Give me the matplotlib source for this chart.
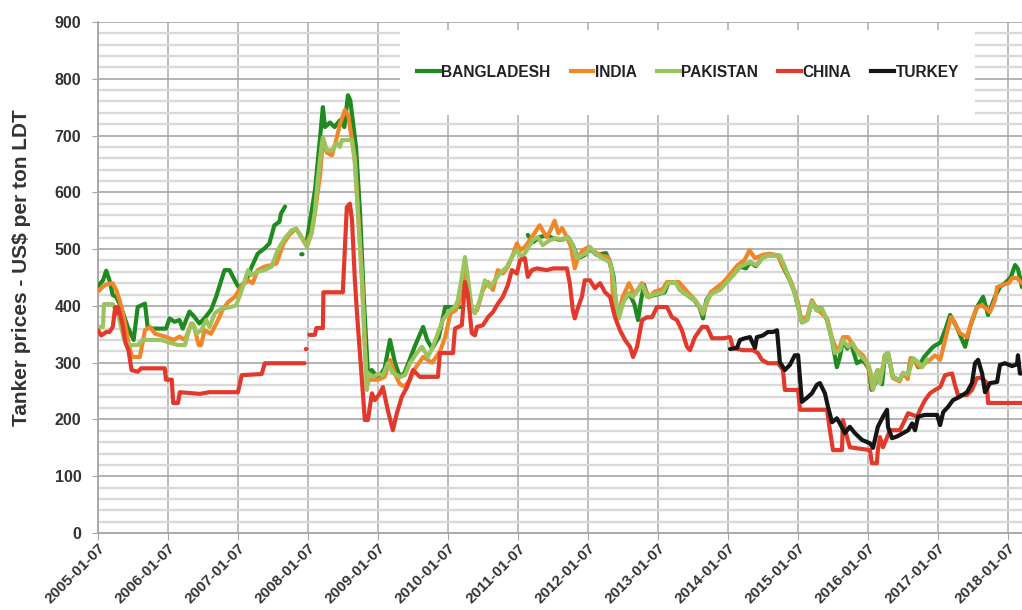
import numpy as np
import pandas as pd
import matplotlib
matplotlib.use("Agg")
import matplotlib.pyplot as plt
from matplotlib.lines import Line2D
from matplotlib.patches import Rectangle
from matplotlib.ticker import MultipleLocator

plt.rcParams['font.family'] = ['Liberation Sans', 'DejaVu Sans']
plt.rcParams['font.weight'] = 'bold'

nan = np.nan

# ---- data (US$ per ton LDT) ----
bd_dates = ['2005-01-07', '2005-02-02', '2005-02-19', '2005-03-08', '2005-03-25', '2005-04-12',
            '2005-05-07', '2005-06-11', '2005-07-12', '2005-08-02', '2005-09-09', '2005-09-23',
            '2005-10-19', '2005-12-28', '2006-01-15', '2006-02-10', '2006-03-08', '2006-03-25',
            '2006-04-29', '2006-05-24', '2006-06-20', '2006-07-16', '2006-08-20', '2006-09-15',
            '2006-10-29', '2006-11-24', '2006-12-29', '2007-01-15', '2007-02-19', '2007-03-16',
            '2007-04-20', '2007-05-25', '2007-06-20', '2007-07-16', '2007-08-11', '2007-08-20',
            '2007-09-10', '2007-09-20', '2007-12-03', '2007-12-10', '2007-12-17',
            '2008-01-02', '2008-02-13', '2008-03-10', '2008-03-25', '2008-04-05', '2008-05-01',
            '2008-05-25', '2008-06-22', '2008-07-15', '2008-08-03', '2008-08-15', '2008-09-14',
            '2008-10-05', '2008-10-25', '2008-11-15', '2008-12-05', '2009-01-07', '2009-02-10',
            '2009-03-10', '2009-04-05', '2009-05-01', '2009-05-25', '2009-07-19', '2009-08-30',
            '2009-09-20', '2009-10-16', '2009-11-20', '2009-12-23', '2010-03-10', '2010-03-20',
            '2011-02-27', '2011-03-25', '2011-04-30', '2011-06-06', '2011-07-08', '2011-08-20',
            '2011-09-25', '2011-10-20', '2011-11-15', '2011-12-20', '2012-01-20', '2012-02-20',
            '2012-04-10', '2012-05-01', '2012-05-20', '2012-06-01', '2012-06-10', '2012-07-01',
            '2012-08-10', '2012-09-05', '2012-09-24', '2012-10-10', '2012-10-25', '2012-11-15',
            '2012-12-20', '2013-02-10', '2013-03-01', '2013-04-10', '2013-05-01', '2013-06-20',
            '2013-07-15', '2013-08-10', '2013-08-29', '2013-09-15', '2013-10-10', '2013-11-15',
            '2013-12-15', '2014-02-01', '2014-03-10', '2014-04-10', '2014-05-01', '2014-06-01',
            '2014-07-08', '2014-08-10', '2014-09-24', '2014-10-20', '2014-11-25', '2014-12-21',
            '2015-01-07', '2015-01-27', '2015-02-22', '2015-03-20', '2015-04-15', '2015-05-05',
            '2015-06-07', '2015-07-03', '2015-07-28', '2015-08-13', '2015-08-29', '2015-09-20',
            '2015-10-10', '2015-11-10', '2015-12-10', '2016-01-10', '2016-01-25', '2016-02-15',
            '2016-02-27', '2016-03-20', '2016-04-04', '2016-04-20', '2016-05-15', '2016-06-20',
            '2016-07-08', '2016-08-01', '2016-08-17', '2016-09-10', '2016-09-25', '2016-10-25',
            '2016-12-06', '2016-12-20', '2017-01-17', '2017-02-15', '2017-03-10', '2017-04-10',
            '2017-05-27', '2017-06-22', '2017-07-28', '2017-08-29', '2017-09-24', '2017-10-30',
            '2017-11-25', '2017-12-21', '2018-01-20', '2018-02-12', '2018-02-27', '2018-03-20']
bd_vals = [435, 445, 462, 445, 419, 416,
           398, 363, 340, 398, 404, 363,
           360, 360, 378, 372, 375, 360,
           390, 381, 369, 378, 393, 416,
           463, 463, 440, 431, 445, 466,
           492, 501, 510, 542, 548, 563,
           575, nan, 491, 491, nan,
           516, 604, 695, 750, 715, 723,
           715, 727, 715, 771, 762, 680,
           563, 410, 282, 287, 273, 290,
           340, 300, 275, 282, 330, 363,
           340, 325, 345, 398, 398, nan,
           525, 512, 521, 525, 519, 516,
           521, 507, 484, 489, 500, 490,
           493, 477, 451, 398, 378, 405,
           422, 403, 375, 410, 437, 416,
           419, 424, 440, 442, 428, 416,
           410, 398, 378, 410, 422, 428,
           442, 454, 469, 466, 477, 470,
           486, 489, 489, 469, 445, 422,
           398, 371, 375, 407, 392, 396,
           375, 340, 292, 310, 340, 325,
           334, 299, 305, 290, 252, 265,
           287, 262, 313, 317, 275, 269,
           282, 275, 308, 301, 292, 310,
           326, 330, 335, 360, 384, 365,
           328, 363, 398, 416, 384, 416,
           433, 440, 450, 472, 465, 433]

in_dates = ['2005-01-07', '2005-02-12', '2005-03-24', '2005-04-12', '2005-04-30', '2005-05-24',
            '2005-06-19', '2005-07-04', '2005-08-13', '2005-09-09', '2005-10-05', '2005-11-01',
            '2005-12-22', '2006-02-06', '2006-03-08', '2006-04-06', '2006-05-09', '2006-05-24',
            '2006-06-16', '2006-06-29', '2006-07-16', '2006-08-20', '2006-09-25', '2006-10-19',
            '2006-11-17', '2006-12-22', '2007-01-24', '2007-03-01', '2007-03-25', '2007-04-20',
            '2007-05-25', '2007-07-01', '2007-07-27', '2007-09-02', '2007-10-01', '2007-11-06',
            '2007-12-02', '2007-12-28', '2008-01-25', '2008-02-13', '2008-03-10', '2008-03-25',
            '2008-04-15', '2008-05-11', '2008-06-01', '2008-06-22', '2008-07-18', '2008-08-05',
            '2008-08-20', '2008-09-08', '2008-09-24', '2008-10-15', '2008-10-30', '2008-11-10',
            '2008-11-20', '2009-01-07', '2009-02-10', '2009-03-10', '2009-04-05', '2009-05-01',
            '2009-05-25', '2009-06-20', '2009-07-19', '2009-08-30', '2009-10-16', '2009-11-26',
            '2009-12-23', '2010-01-20', '2010-02-15', '2010-03-10', '2010-04-05', '2010-04-20',
            '2010-05-11', '2010-06-07', '2010-07-08', '2010-08-03', '2010-08-29', '2010-09-24',
            '2010-10-20', '2010-11-15', '2010-12-10', '2011-01-01', '2011-01-20', '2011-02-12',
            '2011-03-20', '2011-04-30', '2011-05-15', '2011-06-06', '2011-06-25', '2011-07-17',
            '2011-08-05', '2011-08-25', '2011-09-19', '2011-10-10', '2011-10-30', '2011-11-15',
            '2011-12-10', '2012-01-13', '2012-02-12', '2012-03-20', '2012-04-21', '2012-05-10',
            '2012-05-20', '2012-06-10', '2012-07-05', '2012-08-08', '2012-09-05', '2012-10-15',
            '2012-11-20', '2012-12-20', '2013-02-01', '2013-02-22', '2013-04-25', '2013-06-10',
            '2013-07-20', '2013-08-10', '2013-08-28', '2013-10-08', '2013-12-15', '2014-02-26',
            '2014-04-01', '2014-04-29', '2014-05-27', '2014-07-08', '2014-08-10', '2014-09-24',
            '2014-10-20', '2014-11-25', '2014-12-21', '2015-01-07', '2015-01-22', '2015-02-22',
            '2015-03-20', '2015-04-15', '2015-06-07', '2015-07-03', '2015-07-28', '2015-08-13',
            '2015-08-29', '2015-09-25', '2015-10-30', '2015-12-14', '2016-01-10', '2016-01-30',
            '2016-02-22', '2016-03-09', '2016-04-04', '2016-04-20', '2016-05-15', '2016-06-20',
            '2016-07-08', '2016-08-01', '2016-08-17', '2016-09-08', '2016-10-04', '2016-11-25',
            '2016-12-21', '2017-01-17', '2017-02-12', '2017-03-14', '2017-04-04', '2017-04-30',
            '2017-06-06', '2017-07-02', '2017-07-28', '2017-08-24', '2017-10-04', '2017-10-30',
            '2017-11-10', '2017-12-10', '2018-01-10', '2018-01-27', '2018-02-22', '2018-03-20']
in_vals = [425, 437, 440, 428, 410, 375,
           328, 310, 310, 357, 363, 351,
           346, 340, 346, 340, 369, 363,
           331, 331, 357, 351, 375, 393,
           407, 416, 434, 445, 440, 463,
           469, 472, 475, 510, 525, 536,
           522, 507, 528, 565, 630, 690,
           670, 665, 690, 720, 745, 735,
           700, 660, 570, 450, 330, 258,
           270, 270, 275, 305, 280, 262,
           258, 268, 290, 310, 300, 320,
           345, 387, 392, 410, 470, 440,
           392, 392, 428, 442, 428, 463,
           457, 469, 489, 510, 498, 504,
           521, 542, 533, 521, 533, 550,
           528, 537, 521, 504, 466, 484,
           498, 504, 495, 488, 486, 460,
           390, 380, 415, 440, 420, 440,
           415, 425, 430, 442, 442, 424,
           410, 398, 385, 424, 442, 472,
           480, 498, 484, 490, 492, 489,
           470, 448, 425, 405, 378, 380,
           410, 395, 378, 343, 322, 328,
           345, 345, 325, 312, 290, 255,
           285, 266, 313, 317, 273, 267,
           282, 271, 308, 301, 292, 305,
           313, 305, 340, 380, 370, 352,
           345, 375, 398, 401, 389, 410,
           433, 437, 440, 449, 449, 440]

pk_dates = ['2005-01-07', '2005-02-02', '2005-02-07', '2005-03-25', '2005-04-20', '2005-05-24',
            '2005-06-19', '2005-08-02', '2005-08-27', '2005-12-02', '2006-01-29', '2006-03-02',
            '2006-04-06', '2006-04-29', '2006-05-17', '2006-06-05', '2006-06-29', '2006-07-26',
            '2006-08-12', '2006-09-08', '2006-10-13', '2006-12-02', '2006-12-29', '2007-01-24',
            '2007-03-01', '2007-03-16', '2007-04-20', '2007-05-25', '2007-07-01', '2007-08-02',
            '2007-09-08', '2007-10-13', '2007-11-06', '2007-12-06', '2008-01-02', '2008-01-27',
            '2008-02-12', '2008-02-27', '2008-03-20', '2008-03-25', '2008-04-15', '2008-05-11',
            '2008-06-06', '2008-06-22', '2008-07-02', '2008-08-24', '2008-09-08', '2008-09-24',
            '2008-10-15', '2008-10-30', '2008-11-10', '2008-11-15', '2008-12-11', '2009-01-07',
            '2009-02-01', '2009-02-27', '2009-03-25', '2009-05-01', '2009-05-27', '2009-06-22',
            '2009-07-28', '2009-08-24', '2009-09-24', '2009-10-20', '2009-11-15', '2009-12-11',
            '2010-01-17', '2010-02-12', '2010-02-27', '2010-03-20', '2010-04-05', '2010-04-20',
            '2010-05-11', '2010-05-27', '2010-06-22', '2010-07-18', '2010-08-13', '2010-09-08',
            '2010-10-04', '2010-11-10', '2010-12-06', '2011-01-01', '2011-01-27', '2011-02-22',
            '2011-03-25', '2011-04-20', '2011-05-16', '2011-06-22', '2011-07-28', '2011-08-29',
            '2011-09-24', '2011-10-20', '2011-11-10', '2011-12-06', '2012-01-02', '2012-01-17',
            '2012-02-12', '2012-03-10', '2012-05-01', '2012-05-16', '2012-06-06', '2012-06-16',
            '2012-07-08', '2012-08-03', '2012-08-29', '2012-10-15', '2012-11-10', '2012-12-06',
            '2013-02-01', '2013-02-27', '2013-04-05', '2013-05-01', '2013-06-22', '2013-07-18',
            '2013-08-13', '2013-08-29', '2013-09-19', '2013-10-15', '2013-11-25', '2014-01-02',
            '2014-02-02', '2014-03-10', '2014-05-01', '2014-06-06', '2014-07-08', '2014-08-13',
            '2014-10-04', '2014-10-30', '2014-11-25', '2014-12-21', '2015-01-07', '2015-01-27',
            '2015-02-22', '2015-03-20', '2015-04-15', '2015-05-11', '2015-06-07', '2015-07-03',
            '2015-07-18', '2015-08-13', '2015-08-29', '2015-09-24', '2015-10-20', '2015-11-15',
            '2015-12-11', '2016-01-07', '2016-01-27', '2016-02-02', '2016-02-17', '2016-02-27',
            '2016-03-09', '2016-04-05', '2016-04-20', '2016-05-16', '2016-06-21', '2016-07-08',
            '2016-08-03', '2016-08-29', '2016-09-24', '2016-10-15', '2016-11-10']
pk_vals = [363, 363, 403, 403, 387, 340,
           331, 331, 340, 340, 334, 331,
           331, 360, 369, 351, 357, 375,
           363, 387, 395, 398, 401, 425,
           463, 454, 460, 463, 469, 498,
           519, 533, 536, 521, 504, 528,
           563, 621, 687, 697, 674, 674,
           687, 680, 692, 692, 651, 563,
           445, 328, 252, 282, 275, 280,
           278, 299, 282, 275, 278, 299,
           317, 328, 310, 328, 352, 375,
           392, 398, 410, 451, 486, 451,
           392, 387, 410, 445, 433, 445,
           457, 469, 486, 498, 486, 498,
           516, 521, 507, 516, 519, 516,
           521, 507, 484, 489, 493, 504,
           493, 486, 477, 451, 398, 378,
           405, 422, 416, 437, 416, 419,
           424, 440, 442, 428, 416, 410,
           398, 387, 410, 422, 428, 442,
           454, 469, 477, 472, 486, 489,
           489, 469, 445, 422, 398, 371,
           375, 407, 392, 396, 375, 340,
           317, 322, 340, 328, 334, 317,
           308, 299, 275, 252, 275, 287,
           264, 313, 317, 275, 269, 282,
           278, 308, 301, 292, 306]

cn_dates = ['2005-01-07', '2005-01-24', '2005-02-19', '2005-03-08', '2005-03-25', '2005-04-07',
            '2005-04-15', '2005-04-22', '2005-05-14', '2005-05-31', '2005-06-15', '2005-07-01',
            '2005-08-02', '2005-08-20', '2005-12-21', '2005-12-28', '2006-01-27', '2006-02-03',
            '2006-02-28', '2006-03-10', '2006-06-22', '2006-08-10', '2007-01-07', '2007-01-27',
            '2007-05-11', '2007-05-27', '2007-12-21', '2007-12-24', '2007-12-27', '2007-12-31',
            '2008-01-03', '2008-01-14', '2008-02-12', '2008-02-20', '2008-03-25', '2008-03-28',
            '2008-07-07', '2008-07-28', '2008-08-13', '2008-08-24', '2008-09-08', '2008-09-19',
            '2008-10-30', '2008-11-15', '2008-12-06', '2008-12-21', '2009-01-17', '2009-02-01',
            '2009-02-27', '2009-03-25', '2009-04-15', '2009-05-11', '2009-06-07', '2009-07-08',
            '2009-08-13', '2009-11-15', '2009-11-26', '2010-02-02', '2010-02-12', '2010-03-20',
            '2010-04-05', '2010-04-20', '2010-05-11', '2010-05-27', '2010-06-07', '2010-07-08',
            '2010-08-03', '2010-08-29', '2010-09-24', '2010-10-20', '2010-11-15', '2010-12-06',
            '2011-01-01', '2011-01-17', '2011-02-12', '2011-02-27', '2011-03-20', '2011-04-15',
            '2011-06-06', '2011-07-08', '2011-09-19', '2011-10-04', '2011-10-20', '2011-10-30',
            '2011-11-15', '2011-12-06', '2011-12-21', '2012-01-17', '2012-02-12', '2012-03-10',
            '2012-04-05', '2012-05-01', '2012-05-27', '2012-06-22', '2012-07-18', '2012-08-13',
            '2012-08-29', '2012-09-19', '2012-10-15', '2012-11-10', '2012-12-06', '2013-01-01',
            '2013-02-22', '2013-03-20', '2013-04-15', '2013-05-11', '2013-06-06', '2013-06-22',
            '2013-07-18', '2013-08-24', '2013-09-19', '2013-10-15', '2013-12-12', '2014-01-17',
            '2014-02-02', '2014-03-25', '2014-05-16', '2014-06-11', '2014-07-02', '2014-08-02',
            '2014-09-24', '2014-10-20', '2014-10-30', '2015-01-07', '2015-01-17', '2015-06-07',
            '2015-06-22', '2015-07-08', '2015-08-24', '2015-08-29', '2015-09-19', '2015-10-04',
            '2016-01-17', '2016-01-27', '2016-02-22', '2016-02-27', '2016-03-09', '2016-03-25',
            '2016-04-30', '2016-06-21', '2016-07-08', '2016-08-03', '2016-09-19', '2016-10-04',
            '2016-10-30', '2016-11-25', '2016-12-21', '2017-01-17', '2017-02-12', '2017-03-20',
            '2017-04-04', '2017-04-20', '2017-06-06', '2017-07-02', '2017-07-28', '2017-08-24',
            '2017-09-18', '2017-09-24', '2018-03-20']
cn_vals = [357, 348, 354, 354, 363, 398,
           387, 398, 369, 334, 322, 287,
           284, 290, 290, 270, 270, 229,
           229, 248, 245, 248, 248, 278,
           280, 299, 299, nan, 324, 324,
           nan, 349, 349, 361, 361, 424,
           424, 574, 580, 551, 445, 387,
           199, 199, 246, 234, 246, 257,
           216, 181, 211, 240, 257, 287,
           275, 275, 317, 317, 360, 366,
           442, 420, 352, 348, 363, 366,
           380, 389, 404, 416, 437, 463,
           457, 480, 484, 451, 463, 466,
           463, 466, 466, 440, 392, 378,
           396, 416, 445, 445, 431, 440,
           424, 416, 380, 357, 340, 328,
           310, 328, 375, 380, 380, 398,
           398, 380, 375, 357, 328, 322,
           345, 363, 363, 343, 343, 345,
           326, 322, 322, 317, 305, 299,
           299, 287, 252, 252, 217, 217,
           181, 146, 146, 199, 169, 151,
           146, 123, 123, 146, 169, 151,
           181, 181, 193, 211, 205, 217,
           234, 246, 252, 257, 278, 281,
           261, 243, 243, 252, 273, 273,
           264, 229, 229]

tr_dates = ['2014-01-17', '2014-02-22', '2014-03-10', '2014-04-05', '2014-05-01', '2014-05-27',
            '2014-06-06', '2014-07-08', '2014-08-02', '2014-08-29', '2014-09-19', '2014-10-04',
            '2014-10-30', '2014-11-25', '2014-12-21', '2015-01-07', '2015-01-27', '2015-02-22',
            '2015-03-20', '2015-04-15', '2015-05-01', '2015-05-27', '2015-06-12', '2015-07-03',
            '2015-07-28', '2015-08-13', '2015-09-08', '2015-10-04', '2015-10-30', '2015-12-06',
            '2016-01-17', '2016-02-02', '2016-02-27', '2016-03-25', '2016-04-15', '2016-04-20',
            '2016-05-11', '2016-06-06', '2016-07-08', '2016-08-03', '2016-08-24', '2016-09-08',
            '2016-09-24', '2016-10-30', '2017-01-01', '2017-01-17', '2017-02-02', '2017-02-27',
            '2017-03-25', '2017-04-30', '2017-06-06', '2017-07-02', '2017-07-18', '2017-08-03',
            '2017-08-24', '2017-09-08', '2017-10-04', '2017-11-10', '2017-11-25', '2017-12-21',
            '2018-01-27', '2018-02-22', '2018-02-27', '2018-03-09', '2018-03-20']
tr_vals = [324, 326, 340, 343, 345, 326,
           345, 348, 354, 354, 357, 301,
           287, 296, 313, 313, 231, 238,
           246, 261, 264, 246, 222, 195,
           202, 193, 176, 187, 176, 164,
           158, 150, 187, 205, 217, 187,
           167, 170, 176, 181, 193, 181,
           205, 208, 208, 190, 213, 222,
           234, 240, 248, 264, 299, 305,
           281, 248, 264, 266, 296, 299,
           294, 297, 313, 281, 281]

series = [('BANGLADESH', bd_dates, bd_vals, '#1f8a1f'),
          ('INDIA', in_dates, in_vals, '#f0872a'),
          ('PAKISTAN', pk_dates, pk_vals, '#9cc45e'),
          ('CHINA', cn_dates, cn_vals, '#e2392c'),
          ('TURKEY', tr_dates, tr_vals, '#151515')]

year_ticks = ['2005-01-07', '2006-01-07', '2007-01-07', '2008-01-07', '2009-01-07',
              '2010-01-07', '2011-01-07', '2012-01-07', '2013-01-07', '2014-01-07',
              '2015-01-07', '2016-01-07', '2017-01-07', '2018-01-07']

# ---- figure ----
fig = plt.figure(figsize=(10.22, 6.10), dpi=100)
ax = fig.add_axes([98 / 1022, 1 - 533 / 610, 1 - 98 / 1022, (533 - 22) / 610])

for name, d, v, c in series:
    ax.plot(pd.to_datetime(d), v, color=c, lw=3.0, label=name, zorder=3,
            solid_joinstyle='round', solid_capstyle='round')

ax.set_xlim(pd.Timestamp('2005-01-07'), pd.Timestamp('2018-03-20'))
ax.set_ylim(0, 900)

ax.yaxis.set_major_locator(MultipleLocator(100))
ax.yaxis.set_minor_locator(MultipleLocator(20))
ax.set_xticks(pd.to_datetime(year_ticks))
ax.set_xticklabels(year_ticks, rotation=45, ha='right', va='top',
                   rotation_mode='anchor', fontsize=11, color='#333333', fontweight='bold')
for lab in ax.get_yticklabels():
    lab.set_fontsize(11.5)
    lab.set_color('#333333')
    lab.set_fontweight('bold')

ax.set_axisbelow(True)
ax.grid(which='minor', axis='y', color='#d9d9d9', lw=1.7)
ax.grid(which='major', axis='y', color='#a6a6a6', lw=1.2)
ax.grid(which='major', axis='x', color='#ababab', lw=1.1)

ax.tick_params(axis='y', which='major', length=4, color='#a6a6a6', pad=8)
ax.tick_params(axis='y', which='minor', length=0)
ax.tick_params(axis='x', length=5, color='#a6a6a6', pad=1)

for s in ['top', 'right']:
    ax.spines[s].set_visible(False)
for s in ['left', 'bottom']:
    ax.spines[s].set_color('#a6a6a6')
    ax.spines[s].set_linewidth(1.3)

ax.set_ylabel('Tanker prices - US$ per ton LDT', fontsize=15, fontweight='bold',
              color='#333333')
ax.yaxis.set_label_coords(-0.072, 0.52)

# white legend panel over the grid
ax.add_patch(Rectangle((0.327, 0.818), 0.622, 0.166, transform=ax.transAxes,
                       facecolor='white', edgecolor='none', zorder=1))

handles = [Line2D([], [], color=c, lw=3, label=n) for n, _, _, c in series]
leg = ax.legend(handles=handles, loc='center', bbox_to_anchor=(0.6385, 0.902),
                ncol=5, frameon=False, fontsize=11.2, handlelength=1.45,
                handletextpad=0.1, columnspacing=1.3, borderpad=0)
for t in leg.get_texts():
    t.set_fontweight('bold')
    t.set_color('#222222')

fig.savefig('out.png', dpi=100)
